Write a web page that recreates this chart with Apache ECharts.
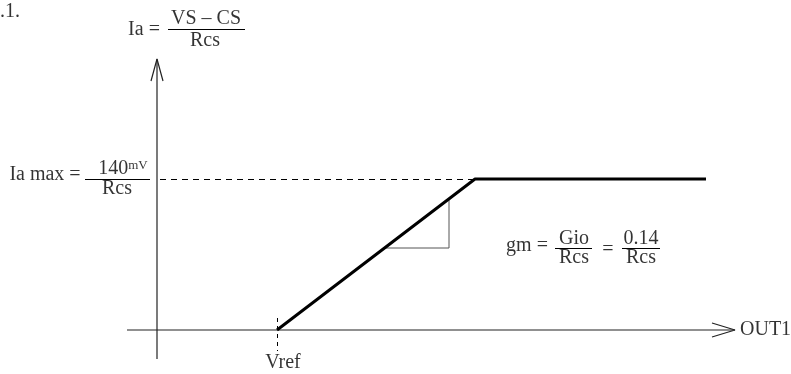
<!DOCTYPE html>
<html>
<head>
<meta charset="utf-8">
<script src="https://cdn.jsdelivr.net/npm/echarts@6/dist/echarts.min.js"></script>
<style>
  html, body { margin: 0; padding: 0; background: #fff; }
  #chart { width: 791px; height: 374px; }
</style>
</head>
<body>
<div id="chart"></div>
<script>
// transfer curve Ia vs OUT1, units (origin = axis crossing)
const outX = [120, 318, 549];
const iaY = [0, 151, 151];
// Ia max reference (dashed) and Vref marker
const iaMaxDashX = [3, 318];
const iaMaxDashY = [150.5, 150.5];
const vrefDashX = [120.5, 120.5];
const vrefDashY = [12, -21];
// little slope triangle under the ramp
const slopeX = [227, 292, 292];
const slopeY = [82, 82, 131];
// axis extents
const xAxisSpan = [-30, 578];
const yAxisSpan = [-29, 271];

// texts
const figTag = '.1.';
const iaEq = ['Ia =', 'VS – CS', 'Rcs'];
const iaMaxEq = ['Ia max =', '140', 'mV', 'Rcs'];
const gmEq = ['gm =', 'Gio', 'Rcs', '=', '0.14', 'Rcs'];
const xName = 'OUT1';
const vrefName = 'Vref';

const FONT = "'Liberation Serif', 'Times New Roman', serif";
const FS = 20;

const chart = echarts.init(document.getElementById('chart'));

const pts = (xs, ys) => xs.map((x, i) => [x, ys[i]]);

const lineSeries = (data, style) => ({
  type: 'line',
  data: data,
  showSymbol: false,
  symbol: 'none',
  silent: true,
  animation: false,
  clip: false,
  lineStyle: style
});

const txt = (x, y, formatter, align, extra) => ({
  value: [x, y],
  label: Object.assign({
    show: true,
    position: 'inside',
    formatter: formatter,
    align: align || 'center',
    verticalAlign: 'middle',
    color: '#000',
    fontFamily: FONT,
    fontSize: FS
  }, extra || {})
});

const axisStyle = { color: '#222', width: 1.2 };
const bar = (x1, x2, y) => lineSeries([[x1, y], [x2, y]], { color: '#000', width: 1 });

const option = {
  animation: false,
  grid: { left: 0, right: 0, top: 0, bottom: 0 },
  xAxis: { type: 'value', min: -157, max: 634, show: false },
  yAxis: { type: 'value', min: -44, max: 330, show: false },
  series: [
    // axes
    lineSeries(pts(xAxisSpan, [0, 0]), axisStyle),
    lineSeries([[555, 7], [xAxisSpan[1], 0], [555, -7]], axisStyle),
    lineSeries(pts([0, 0], yAxisSpan), axisStyle),
    lineSeries([[-6, 249], [0, yAxisSpan[1]], [6, 249]], axisStyle),
    // dashed guides
    lineSeries(pts(iaMaxDashX, iaMaxDashY), { color: '#000', width: 1, type: [6, 5] }),
    lineSeries(pts(vrefDashX, vrefDashY), { color: '#000', width: 1, type: [4, 4] }),
    // slope triangle
    lineSeries(pts(slopeX, slopeY), { color: '#555', width: 1 }),
    // transfer curve
    lineSeries(pts(outX, iaY), { color: '#000', width: 3 }),
    // fraction bars
    bar(11, 88, 300.5),
    bar(-72, -7, 150.5),
    bar(398, 435, 81.5),
    bar(465, 503, 81.5),
    {
      type: 'scatter',
      symbolSize: 0,
      silent: true,
      animation: false,
      clip: false,
      data: [
        txt(-157, 318, figTag, 'left'),
        txt(-13, 300, iaEq[0]),
        txt(49, 311, iaEq[1]),
        txt(48, 289, iaEq[2]),
        txt(-112, 155, iaMaxEq[0]),
        txt(-34, 161, '{n|' + iaMaxEq[1] + '}{s|' + iaMaxEq[2] + '}', 'center', {
          rich: {
            n: { fontFamily: FONT, fontSize: FS, color: '#000' },
            s: { fontFamily: FONT, fontSize: 13, color: '#000', verticalAlign: 'top' }
          }
        }),
        txt(-40, 141, iaMaxEq[3]),
        txt(126, -33, vrefName),
        txt(583, 0, xName, 'left'),
        txt(370, 84, gmEq[0]),
        txt(417, 91, gmEq[1]),
        txt(417, 72, gmEq[2]),
        txt(451, 80, gmEq[3]),
        txt(484, 91, gmEq[4]),
        txt(484, 72, gmEq[5])
      ]
    }
  ]
};

chart.setOption(option);
</script>
</body>
</html>
